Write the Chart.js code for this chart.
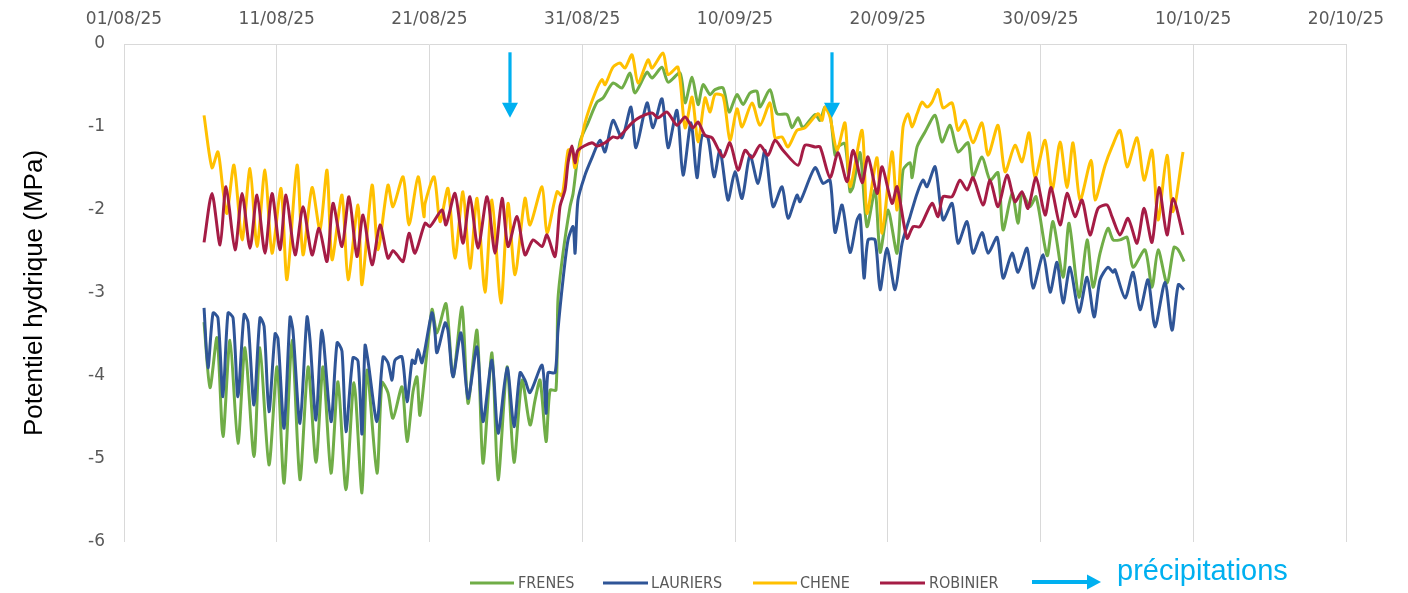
<!DOCTYPE html>
<html><head><meta charset="utf-8">
<script src="https://cdn.jsdelivr.net/npm/chart.js@4.4.1/dist/chart.umd.min.js"></script>
<style>html,body{margin:0;padding:0;background:#fff;} #wrap{width:1408px;height:593px;position:relative;}</style>
</head><body><div id="wrap"><canvas id="c" width="1408" height="593"></canvas></div>
<script>
// x values: days since 01/08/25 00:00
const X_TICK_LABELS = ['01/08/25','11/08/25','21/08/25','31/08/25','10/09/25','20/09/25','30/09/25','10/10/25','20/10/25'];
const SERIES_NAMES = ['FRENES','LAURIERS','CHENE','ROBINIER'];
const PRECIP_LABEL = 'précipitations';
const PRECIP_DAYS = [25.27, 46.35];

const FRENES = [
[5.24,-3.35],[5.63,-4.14],[6.09,-3.54],[6.48,-4.73],[6.94,-3.57],[7.46,-4.81],[7.92,-3.66],[8.51,-4.97],[8.90,-3.66],[9.49,-5.07],[10.02,-3.89],[10.48,-5.29],[11.00,-3.57],[11.52,-5.25],[12.05,-3.89],[12.57,-5.04],[13.03,-3.89],[13.55,-5.17],[14.01,-4.07],[14.53,-5.37],[15.06,-4.08],[15.58,-5.41],
[15.91,-3.93],[16.56,-5.17],[16.89,-4.08],[17.28,-4.20],[17.61,-4.51],[18.20,-4.13],[18.53,-4.79],[18.92,-4.19],[19.18,-4.01],[19.38,-4.47],[20.16,-3.20],[20.49,-3.48],[21.08,-3.13],[21.54,-4.01],[22.13,-3.17],[22.52,-4.33],[23.11,-3.45],[23.50,-5.05],[24.09,-3.72],[24.49,-5.25],[25.08,-3.89],[25.53,-5.04],[26.06,-4.05],
[26.58,-4.59],[26.91,-4.29],[27.24,-4.05],[27.63,-4.79],[27.89,-4.17],[28.28,-4.17],[28.41,-3.08],[28.74,-2.52],[29.20,-1.96],[29.40,-1.80],[29.85,-1.18],[30.38,-0.95],[30.97,-0.70],[31.36,-0.65],[32.01,-0.47],[32.60,-0.53],[33.13,-0.35],[33.45,-0.59],[34.24,-0.34],[34.57,-0.41],[35.22,-0.28],[35.62,-0.46],[36.40,-0.35],[36.73,-0.71],[37.19,-0.40],
[37.58,-0.73],[37.91,-0.49],[38.37,-0.61],[38.69,-0.55],[39.22,-0.53],[39.61,-0.82],[40.13,-0.61],[40.53,-0.73],[40.98,-0.59],[41.44,-0.57],[41.64,-0.76],[42.29,-0.55],[42.75,-0.84],[43.41,-0.85],[43.73,-1.01],[44.13,-0.89],[44.45,-1.01],[45.24,-0.85],[45.57,-0.92],[45.89,-0.76],[46.22,-0.84],[46.55,-1.34],[46.75,-1.24],[47.20,-1.20],[47.53,-1.78],[47.73,-1.72],
[48.19,-1.31],[48.64,-2.20],[49.17,-1.76],[49.50,-2.51],[50.02,-2.00],[50.61,-2.52],[51.00,-1.52],[51.46,-1.43],[51.59,-1.61],[51.92,-1.24],[52.44,-1.06],[53.10,-0.86],[53.55,-1.18],[54.08,-0.98],[54.60,-1.30],[55.26,-1.19],[55.58,-1.60],[56.17,-1.36],[56.70,-1.64],[57.22,-1.55],[57.55,-2.24],[58.14,-1.80],[58.53,-2.16],[58.79,-1.80],
[59.32,-1.96],[59.71,-1.84],[60.43,-2.55],[60.82,-2.14],[61.48,-2.81],[61.87,-2.16],[62.52,-3.05],[63.05,-2.36],[63.44,-2.93],[63.90,-2.52],[64.42,-2.22],[64.75,-2.36],[65.21,-2.36],[65.67,-2.33],[66.06,-2.69],[66.84,-2.48],[67.30,-2.93],[67.70,-2.48],[68.28,-2.88],[68.74,-2.45],[69.02,-2.48],[69.40,-2.62]
];

const LAURIERS = [
[5.24,-3.18],[5.50,-3.90],[5.83,-3.24],[6.15,-3.30],[6.48,-4.25],[6.81,-3.24],[7.14,-3.30],[7.46,-4.25],[7.86,-3.26],[8.12,-3.35],[8.51,-4.35],[8.90,-3.30],[9.17,-3.40],[9.49,-4.43],[9.89,-3.49],[10.08,-3.55],[10.48,-4.63],[10.87,-3.29],[11.06,-3.45],[11.52,-4.57],[11.98,-3.29],[12.18,-3.57],[12.57,-4.53],[12.96,-3.45],[13.55,-4.55],[13.95,-3.60],[14.27,-3.70],[14.53,-4.67],[14.99,-3.78],[15.32,-3.82],[15.58,-4.70],
[15.78,-3.63],[15.97,-3.81],[16.56,-4.55],[16.96,-3.77],[17.28,-3.84],[17.55,-4.05],[17.74,-3.81],[18.20,-3.77],[18.53,-4.31],[18.86,-3.81],[19.05,-3.85],[19.25,-3.68],[19.51,-3.84],[20.16,-3.24],[20.36,-3.48],[20.49,-3.72],[21.02,-3.36],[21.21,-3.45],[21.54,-4.01],[22.06,-3.48],[22.52,-4.27],[23.11,-3.65],[23.50,-4.55],[24.09,-3.81],[24.49,-4.69],[25.08,-3.90],[25.53,-4.61],[25.93,-3.96],[26.25,-4.05],
[26.58,-4.20],[27.37,-3.87],[27.63,-4.45],[27.76,-3.96],[28.22,-3.96],[28.41,-3.45],[28.74,-2.84],[29.07,-2.36],[29.40,-2.20],[29.53,-2.52],[29.72,-1.88],[30.18,-1.58],[30.64,-1.37],[31.16,-1.16],[31.49,-1.30],[32.01,-0.92],[32.60,-1.13],[33.19,-0.76],[33.52,-1.25],[34.24,-0.71],[34.63,-1.01],[35.22,-0.66],[35.62,-1.25],[36.20,-0.80],[36.60,-1.58],[37.12,-0.95],
[37.51,-1.61],[37.84,-1.10],[38.23,-1.13],[38.63,-1.60],[39.02,-1.28],[39.54,-1.88],[40.00,-1.54],[40.46,-1.86],[40.98,-1.34],[41.51,-1.68],[41.97,-1.28],[42.49,-1.96],[43.08,-1.72],[43.47,-2.10],[44.06,-1.82],[44.26,-1.90],[45.24,-1.49],[45.76,-1.68],[46.22,-1.64],[46.55,-2.27],[47.01,-1.94],[47.53,-2.51],[47.99,-2.12],
[48.19,-2.06],[48.45,-2.82],[48.71,-2.36],[49.17,-2.36],[49.50,-2.96],[49.95,-2.46],[50.48,-2.96],[50.94,-2.40],[51.46,-2.08],[51.92,-1.80],[52.31,-1.64],[52.57,-1.72],[53.10,-1.48],[53.62,-2.12],[54.21,-1.92],[54.60,-2.40],[55.19,-2.14],[55.58,-2.52],[56.17,-2.27],[56.57,-2.52],[57.16,-2.33],[57.55,-2.82],[58.14,-2.52],[58.53,-2.75],
[59.12,-2.46],[59.51,-2.94],[60.17,-2.54],[60.63,-2.99],[61.08,-2.63],[61.48,-3.12],[61.93,-2.69],[62.52,-3.23],[63.05,-2.81],[63.51,-3.29],[63.90,-2.84],[64.42,-2.69],[64.75,-2.75],[64.88,-2.72],[65.54,-3.06],[66.06,-2.75],[66.52,-3.20],[67.04,-2.84],[67.50,-3.41],[68.15,-2.87],[68.61,-3.45],[69.02,-2.90],[69.40,-2.96]
];

const CHENE = [
[5.24,-0.86],[5.76,-1.49],[6.15,-1.30],[6.48,-1.76],[6.74,-2.04],[7.20,-1.46],[7.73,-2.36],[8.25,-1.50],[8.71,-2.44],[9.23,-1.52],[9.69,-2.52],[10.28,-1.74],[10.67,-2.84],[11.33,-1.46],[11.72,-2.54],[12.31,-1.73],[12.83,-2.24],[13.29,-1.52],[13.62,-2.60],[14.27,-1.82],[14.67,-2.84],[15.32,-1.94],[15.58,-2.90],
[16.24,-1.70],[16.63,-2.48],[17.28,-1.70],[17.61,-1.96],[18.27,-1.60],[18.66,-2.18],[19.25,-1.60],[19.64,-2.08],[19.71,-1.92],[20.30,-1.60],[20.69,-2.14],[21.21,-1.74],[21.67,-2.58],[22.19,-1.78],[22.65,-2.70],[23.11,-1.86],[23.63,-2.99],[24.09,-1.88],[24.68,-3.12],[25.14,-1.92],[25.60,-2.78],[26.25,-1.86],
[26.58,-2.18],[27.37,-1.72],[27.69,-2.28],[28.35,-1.78],[28.68,-1.83],[29.07,-1.28],[29.33,-1.28],[29.53,-1.49],[30.18,-0.95],[30.84,-0.59],[31.29,-0.43],[31.49,-0.49],[32.01,-0.28],[32.47,-0.23],[32.80,-0.29],[33.26,-0.13],[33.65,-0.47],[34.31,-0.19],[34.57,-0.29],[35.29,-0.11],[35.62,-0.37],[36.27,-0.28],[36.73,-1.01],[37.19,-0.64],
[37.58,-1.18],[38.04,-0.65],[38.37,-0.82],[38.69,-0.61],[39.22,-0.63],[39.67,-1.16],[40.13,-0.78],[40.46,-1.00],[41.11,-0.71],[41.64,-0.98],[42.29,-0.71],[42.62,-1.13],[43.08,-1.12],[43.47,-1.24],[44.06,-1.04],[44.58,-1.01],[45.44,-0.84],[45.70,-0.92],[45.89,-0.76],[46.22,-0.88],[46.68,-1.28],[47.20,-0.95],[47.53,-1.72],
[48.32,-1.04],[48.64,-2.04],[49.30,-1.37],[49.63,-2.28],[50.28,-1.30],[50.61,-2.00],[51.00,-1.00],[51.33,-0.84],[51.59,-1.00],[51.92,-0.84],[52.25,-0.70],[52.57,-0.76],[52.90,-0.70],[53.29,-0.55],[53.62,-0.77],[54.21,-0.71],[54.60,-1.04],[55.06,-0.92],[55.58,-1.19],[56.17,-0.95],[56.57,-1.34],[57.22,-0.98],[57.68,-1.54],[58.33,-1.22],[58.79,-1.42],
[59.25,-1.07],[59.64,-1.61],[60.30,-1.16],[60.76,-1.76],[61.28,-1.18],[61.74,-1.73],[62.13,-1.19],[62.59,-1.88],[63.31,-1.40],[63.57,-1.88],[64.23,-1.46],[64.68,-1.24],[65.21,-1.04],[65.67,-1.48],[66.32,-1.13],[66.78,-1.64],[67.30,-1.28],[67.70,-2.12],[68.28,-1.34],[68.68,-2.02],[69.33,-1.30]
];

const ROBINIER = [
[5.24,-2.39],[5.76,-1.80],[6.29,-2.42],[6.68,-1.72],[7.27,-2.48],[7.73,-1.80],[8.25,-2.46],[8.71,-1.82],[9.23,-2.52],[9.69,-1.80],[10.21,-2.48],[10.61,-1.82],[11.20,-2.54],[11.72,-1.96],[12.31,-2.54],[12.77,-2.22],[13.29,-2.62],[13.68,-1.92],[14.27,-2.44],[14.73,-1.84],[15.25,-2.56],[15.65,-2.06],
[16.24,-2.66],[16.76,-2.18],[17.28,-2.58],[17.61,-2.49],[17.87,-2.54],[18.27,-2.62],[18.66,-2.28],[19.05,-2.52],[19.71,-2.16],[20.03,-2.20],[20.82,-2.00],[21.08,-2.18],[21.67,-1.80],[22.19,-2.40],[22.65,-1.84],[23.18,-2.46],[23.77,-1.84],[24.29,-2.52],[24.75,-1.86],[25.14,-2.44],[25.73,-2.08],[26.25,-2.54],
[26.78,-2.36],[27.37,-2.44],[27.69,-2.30],[28.22,-2.56],[28.54,-1.96],[28.87,-1.76],[29.07,-1.43],[29.33,-1.23],[29.53,-1.43],[29.72,-1.28],[30.64,-1.19],[30.97,-1.23],[31.49,-1.19],[32.01,-1.12],[32.34,-1.13],[33.26,-0.95],[33.78,-0.88],[34.57,-0.83],[34.96,-0.89],[35.55,-0.82],[36.20,-0.98],[36.73,-0.88],[37.25,-1.01],
[37.58,-0.94],[38.04,-1.10],[38.50,-1.13],[39.22,-1.36],[39.67,-1.19],[40.20,-1.52],[40.66,-1.28],[41.11,-1.37],[41.64,-1.22],[42.16,-1.34],[42.62,-1.16],[43.14,-1.28],[44.13,-1.46],[44.58,-1.22],[45.24,-1.24],[45.57,-1.24],[46.22,-1.61],[46.75,-1.31],[47.33,-1.66],[47.73,-1.28],
[48.32,-1.67],[48.71,-1.36],[49.30,-1.80],[49.63,-1.48],[50.28,-1.92],[50.61,-1.72],[51.26,-2.34],[51.66,-2.20],[52.11,-2.20],[52.90,-1.92],[53.29,-2.08],[53.62,-1.84],[54.21,-1.84],[54.73,-1.64],[55.19,-1.76],[55.58,-1.61],[56.24,-1.94],[56.70,-1.64],[57.22,-1.96],[57.81,-1.58],[58.33,-1.90],[58.79,-1.78],
[59.18,-1.98],[59.71,-1.61],[60.30,-2.06],[60.69,-1.73],[61.28,-2.18],[61.74,-1.80],[62.26,-2.08],[62.72,-1.88],[63.24,-2.30],[63.77,-1.98],[64.36,-1.94],[64.68,-2.08],[65.21,-2.30],[65.73,-2.10],[66.32,-2.40],[66.78,-1.98],[67.30,-2.39],[67.76,-1.73],[68.28,-2.30],[68.68,-1.86],[69.33,-2.30]
];

const SERIES_VALUES = [FRENES, LAURIERS, CHENE, ROBINIER];
const SERIES_COLORS = ['#70AD47','#2F5597','#FFC000','#A51C45'];
const PRECIP_COLOR = '#00B0F0';
const TICK_FONT = {family:'"DejaVu Sans", sans-serif', size:17};
const TICK_COLOR = '#595959';

const datasets = SERIES_VALUES.map((vals,i)=>({
  label: SERIES_NAMES[i],
  data: vals.map(([x,y])=>({x,y})),
  borderColor: SERIES_COLORS[i],
  backgroundColor: SERIES_COLORS[i],
  borderWidth: 3,
  pointRadius: 0,
  tension: 0.25,
  fill: false,
  order: 4 - i
}));

function arrow(ctx, x0, y0, x1, y1, shaftW, headW, headL, color){
  const ang = Math.atan2(y1-y0, x1-x0);
  const bx = x1 - Math.cos(ang)*headL, by = y1 - Math.sin(ang)*headL;
  ctx.save();
  ctx.strokeStyle = color; ctx.fillStyle = color; ctx.lineWidth = shaftW; ctx.lineCap='butt';
  ctx.beginPath(); ctx.moveTo(x0,y0); ctx.lineTo(bx,by); ctx.stroke();
  ctx.beginPath();
  ctx.moveTo(x1,y1);
  ctx.lineTo(bx + Math.sin(ang)*headW/2, by - Math.cos(ang)*headW/2);
  ctx.lineTo(bx - Math.sin(ang)*headW/2, by + Math.cos(ang)*headW/2);
  ctx.closePath(); ctx.fill();
  ctx.restore();
}

const precipPlugin = {
  id:'precip',
  afterDatasetsDraw(chart){
    const {ctx, scales:{x,y}} = chart;
    PRECIP_DAYS.forEach(d=>{
      const px = x.getPixelForValue(d);
      arrow(ctx, px, y.getPixelForValue(-0.10), px, y.getPixelForValue(-0.89), 3.2, 16, 15, PRECIP_COLOR);
    });
  }
};

const legendPlugin = {
  id:'customLegend',
  afterDraw(chart){
    const ctx = chart.ctx;
    const items = [
      {x0:470, x1:514, tx:518},
      {x0:603, x1:648, tx:651},
      {x0:753, x1:797, tx:800},
      {x0:880, x1:925, tx:929}
    ];
    const ly = 583;
    ctx.save();
    ctx.font = '16px "Liberation Sans Narrow", "DejaVu Sans Condensed", sans-serif';
    ctx.textBaseline = 'middle';
    ctx.textAlign = 'left';
    chart.data.datasets.forEach((ds,i)=>{
      const it = items[i];
      ctx.strokeStyle = ds.borderColor; ctx.lineWidth = 3;
      ctx.beginPath(); ctx.moveTo(it.x0, ly); ctx.lineTo(it.x1, ly); ctx.stroke();
      ctx.fillStyle = TICK_COLOR;
      ctx.fillText(ds.label, it.tx, ly+1);
    });
    arrow(ctx, 1032, 582, 1101, 582, 4, 15, 14, PRECIP_COLOR);
    ctx.font = '29px "Liberation Sans", Arial, sans-serif';
    ctx.fillStyle = PRECIP_COLOR;
    ctx.fillText(PRECIP_LABEL, 1117, 572);
    ctx.restore();
  }
};

new Chart(document.getElementById('c'), {
  type:'line',
  data:{datasets},
  options:{
    responsive:false,
    devicePixelRatio:1,
    animation:false,
    layout:{padding:{left:0, right:62, top:0, bottom:51}},
    plugins:{legend:{display:false}, tooltip:{enabled:false}},
    scales:{
      x:{
        type:'linear', position:'top', min:0, max:80,
        ticks:{stepSize:10, autoSkip:false, maxRotation:0, padding:14, font:TICK_FONT, color:TICK_COLOR,
          callback:(v)=>X_TICK_LABELS[Math.round(v/10)]},
        grid:{color:'#d9d9d9', lineWidth:1, drawTicks:false},
        border:{display:true, color:'#d9d9d9', width:1},
        afterFit:(s)=>{s.height = 44;}
      },
      y:{
        min:-6, max:0,
        ticks:{stepSize:1, padding:19, font:TICK_FONT, color:TICK_COLOR},
        grid:{display:false, drawTicks:false},
        border:{display:false},
        title:{display:true, text:'Potentiel hydrique (MPa)', color:'#000',
          font:{family:'"Liberation Sans", Arial, sans-serif', size:26}, padding:{top:19,bottom:0}},
        afterFit:(s)=>{s.width = 124;}
      }
    }
  },
  plugins:[precipPlugin, legendPlugin]
});
</script></body></html>
